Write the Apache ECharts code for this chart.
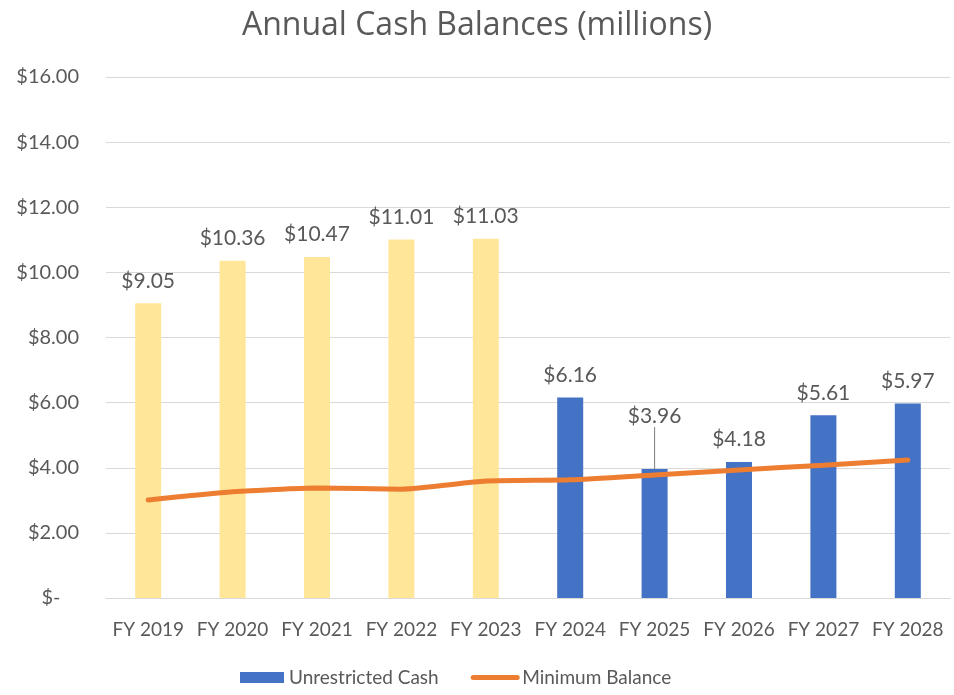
<!DOCTYPE html>
<html>
<head>
<meta charset="utf-8">
<script src="https://cdn.jsdelivr.net/npm/echarts@6/dist/echarts.min.js"></script>
<style>
  html, body { margin: 0; padding: 0; background: #fff; }
  #chart { width: 954px; height: 695px; }
</style>
</head>
<body>
<div id="chart"></div>
<script>
// data
const years = ["FY 2019", "FY 2020", "FY 2021", "FY 2022", "FY 2023", "FY 2024", "FY 2025", "FY 2026", "FY 2027", "FY 2028"];
const cash = [9.05, 10.36, 10.47, 11.01, 11.03, 6.16, 3.96, 4.18, 5.61, 5.97];
const minBalance = [3.01, 3.26, 3.38, 3.34, 3.59, 3.63, 3.78, 3.93, 4.08, 4.24];
const actualCount = 5; // first five years are actuals (yellow)
const movedLabel = 6;  // FY 2025 label sits higher with a leader line

const font = "Lato";
const grey = "#595959";

var myChart = echarts.init(document.getElementById("chart"));

const barData = cash.map((v, i) => ({
  value: v,
  itemStyle: { color: i < actualCount ? "#FFE699" : "#4472C4" },
  labelLine: { show: i === movedLabel },
}));

myChart.setOption({
  animation: false,
  title: {
    text: "Annual Cash Balances (millions)",
    left: "center",
    top: 5,
    textStyle: { fontFamily: "Open Sans", fontSize: 32, fontWeight: "normal", color: grey },
  },
  grid: { left: 106, right: 4, top: 77, bottom: 97 },
  legend: {
    bottom: 3,
    left: 235,
    itemGap: 32,
    itemWidth: 44,
    itemHeight: 11,
    textStyle: { fontFamily: font, fontSize: 19, color: grey },
    data: [
      { name: "Unrestricted Cash", icon: "rect" },
      {
        name: "Minimum Balance",
        itemStyle: { opacity: 0 },
        lineStyle: { width: 5, cap: "round", color: "#ED7D31" },
      },
    ],
  },
  xAxis: {
    type: "category",
    data: years,
    axisLine: { lineStyle: { color: "#d9d9d9", width: 1 } },
    axisTick: { show: false },
    axisLabel: { fontFamily: font, fontSize: 19, color: grey, margin: 22, interval: 0 },
  },
  yAxis: {
    type: "value",
    min: 0,
    max: 16,
    interval: 2,
    axisLine: { show: false },
    axisTick: { show: false },
    splitLine: { lineStyle: { color: "#d9d9d9", width: 1 } },
    axisLabel: {
      fontFamily: font,
      fontSize: 20,
      color: grey,
      margin: 27,
      // accounting style: the zero dash sits in from the right edge
      formatter: (v) => (v === 0 ? "$-{pad|00}" : "$" + v.toFixed(2)),
      rich: {
        pad: { fontFamily: font, fontSize: 16, color: "rgba(0,0,0,0)" },
      },
    },
  },
  series: [
    {
      name: "Unrestricted Cash",
      type: "bar",
      data: barData,
      barWidth: 26,
      itemStyle: { color: "#4472C4" },
      label: {
        show: true,
        position: "top",
        distance: 12,
        fontFamily: font,
        fontSize: 21,
        color: grey,
        formatter: (p) => "$" + p.value.toFixed(2),
      },
      labelLine: { show: false, lineStyle: { color: "#7f7f7f", width: 1 } },
      labelLayout: (p) => (p.dataIndex === movedLabel ? { dy: -30 } : {}),
    },
    {
      name: "Minimum Balance",
      type: "line",
      data: minBalance,
      symbol: "none",
      smooth: 0.2,
      lineStyle: { color: "#ED7D31", width: 5, cap: "round" },
      itemStyle: { color: "#ED7D31" },
    },
  ],
});
</script>
</body>
</html>
